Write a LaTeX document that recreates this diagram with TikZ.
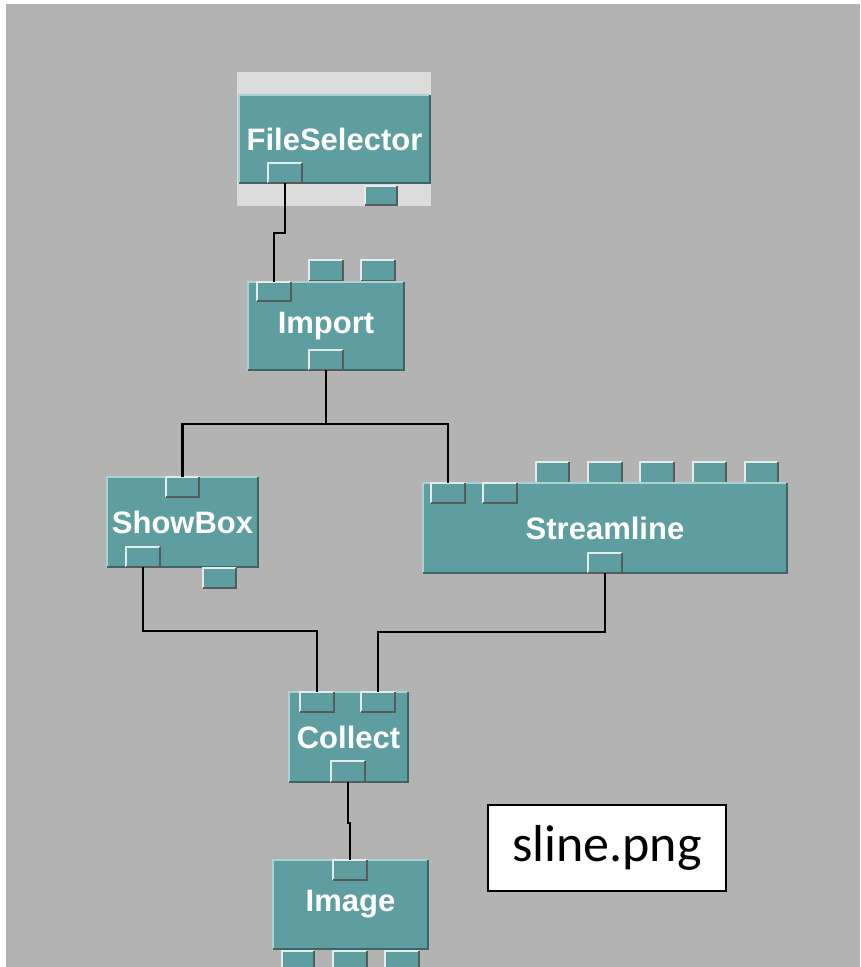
\documentclass[tikz,border=0pt]{standalone}
\usepackage{fontspec}
\setmainfont{Liberation Sans}
\newfontfamily\calfont{Carlito}
\definecolor{bggray}{HTML}{B3B3B3}
\definecolor{teal}{HTML}{5F9EA0}
\definecolor{framegray}{HTML}{DCDCDC}
\definecolor{bevlt}{HTML}{A9D2D2}
\definecolor{bevdk}{HTML}{3C6566}
\definecolor{portlt}{HTML}{E2ECEC}
\definecolor{portdk}{HTML}{545C5C}
\tikzset{
  modbox/.style={fill=teal, inner sep=0pt, outer sep=0pt, text=white,
    font=\fontsize{31}{36}\selectfont\bfseries},
  portbox/.style={fill=teal, inner sep=0pt, outer sep=0pt},
  modlt/.style={draw=bevlt, line width=1.5pt},
  moddk/.style={draw=bevdk, line width=1.5pt},
  portltl/.style={draw=portlt, line width=1.5pt},
  portdkl/.style={draw=portdk, line width=1.5pt},
  wire/.style={draw=black, line width=2.4pt, line join=miter},
  labelbox/.style={draw=black, fill=white, line width=1.8pt, inner sep=0pt,
    font=\calfont\fontsize{52}{60}\selectfont}
}
\newcommand\mkbox[8]{% style prefix, name, x1,y1,x2,y2, text
  \pgfmathsetmacro\bxcx{(#3+#5)/2}\pgfmathsetmacro\bxcy{(#4+#6)/2}%
  \pgfmathsetmacro\bxw{#5-#3}\pgfmathsetmacro\bxh{#6-#4}%
  \node[#1box, minimum width=\bxw pt, minimum height=\bxh pt] (#2) at (\bxcx,\bxcy) {#7};
  \draw[#8lt] (#2.south west) -- (#2.north west) -- (#2.north east);
  \draw[#8dk] (#2.south west) -- (#2.south east) -- (#2.north east);
}
\newcommand\module[6]{\mkbox{mod}{#1}{#2}{#3}{#4}{#5}{#6}{mod}}
\newcommand\port[5]{\mkbox{port}{#1}{#2}{#3}{#4}{#5}{}{port}}
\tikzset{portlt/.style={portltl}, portdk/.style={portdkl}}
\begin{document}
\begin{tikzpicture}[x=1pt,y=-1pt]
\useasboundingbox (0,0) rectangle (860,967);
\clip (0,0) rectangle (860,967);
\fill[white] (0,0) rectangle (860,967);
\fill[bggray] (6,4) rectangle (860,967);

% FileSelector
\fill[framegray] (237,72) rectangle (431,206);
\module{fs}{239}{95}{430}{183}{FileSelector}
\port{fsout}{268}{163}{302}{183}
\port{fsout2}{365}{186}{397}{205}

% Import
\port{imp1}{309}{260}{343}{281}
\port{imp2}{361}{260}{395}{281}
\module{imp}{248}{282}{404}{370}{Import}
\port{impin}{257}{282}{291}{301}
\port{impout}{309}{350}{343}{370}

% ShowBox
\module{sb}{107}{477}{258}{567}{ShowBox}
\port{sbin}{166}{477}{199}{497}
\port{sbout}{126}{547}{160}{567}
\port{sbout2}{203}{568}{236}{588}

% Streamline
\port{slp1}{536}{462}{569}{483}
\port{slp2}{588}{462}{622}{483}
\port{slp3}{640}{462}{674}{483}
\port{slp4}{693}{462}{726}{483}
\port{slp5}{745}{462}{778}{483}
\module{sl}{423}{483}{787}{573}{Streamline}
\port{slin}{431}{483}{465}{503}
\port{slin2}{483}{483}{517}{503}
\port{slout}{588}{553}{622}{573}

% Collect
\module{col}{289}{692}{408}{782}{Collect}
\port{colin}{300}{692}{334}{712}
\port{colin2}{361}{692}{395}{712}
\port{colout}{331}{761}{365}{782}

% Image
\module{img}{273}{860}{428}{949}{Image}
\port{imgin}{333}{860}{367}{880}
\port{imgo1}{282}{951}{314}{975}
\port{imgo2}{333}{951}{367}{975}
\port{imgo3}{385}{951}{419}{975}

% wires
\draw[wire] (fsout.south) -- (fsout.south |- 0,233) -| (impin.north);
\draw[wire] (impout.south) -- (impout.south |- 0,424) -| (sbin.north);
\draw[wire] (impout.south |- 0,424) -| (slin.north);
\draw[wire] (sbout.south) -- (sbout.south |- 0,631) -| (colin.north);
\draw[wire] (slout.south) -- (slout.south |- 0,632) -| (colin2.north);
\draw[wire] (colout.south) -- (colout.south |- 0,823) -| (imgin.north);

% label
\node[labelbox, minimum width=238pt, minimum height=86pt] (lbl) at (607,848) {sline.png};
\end{tikzpicture}
\end{document}
